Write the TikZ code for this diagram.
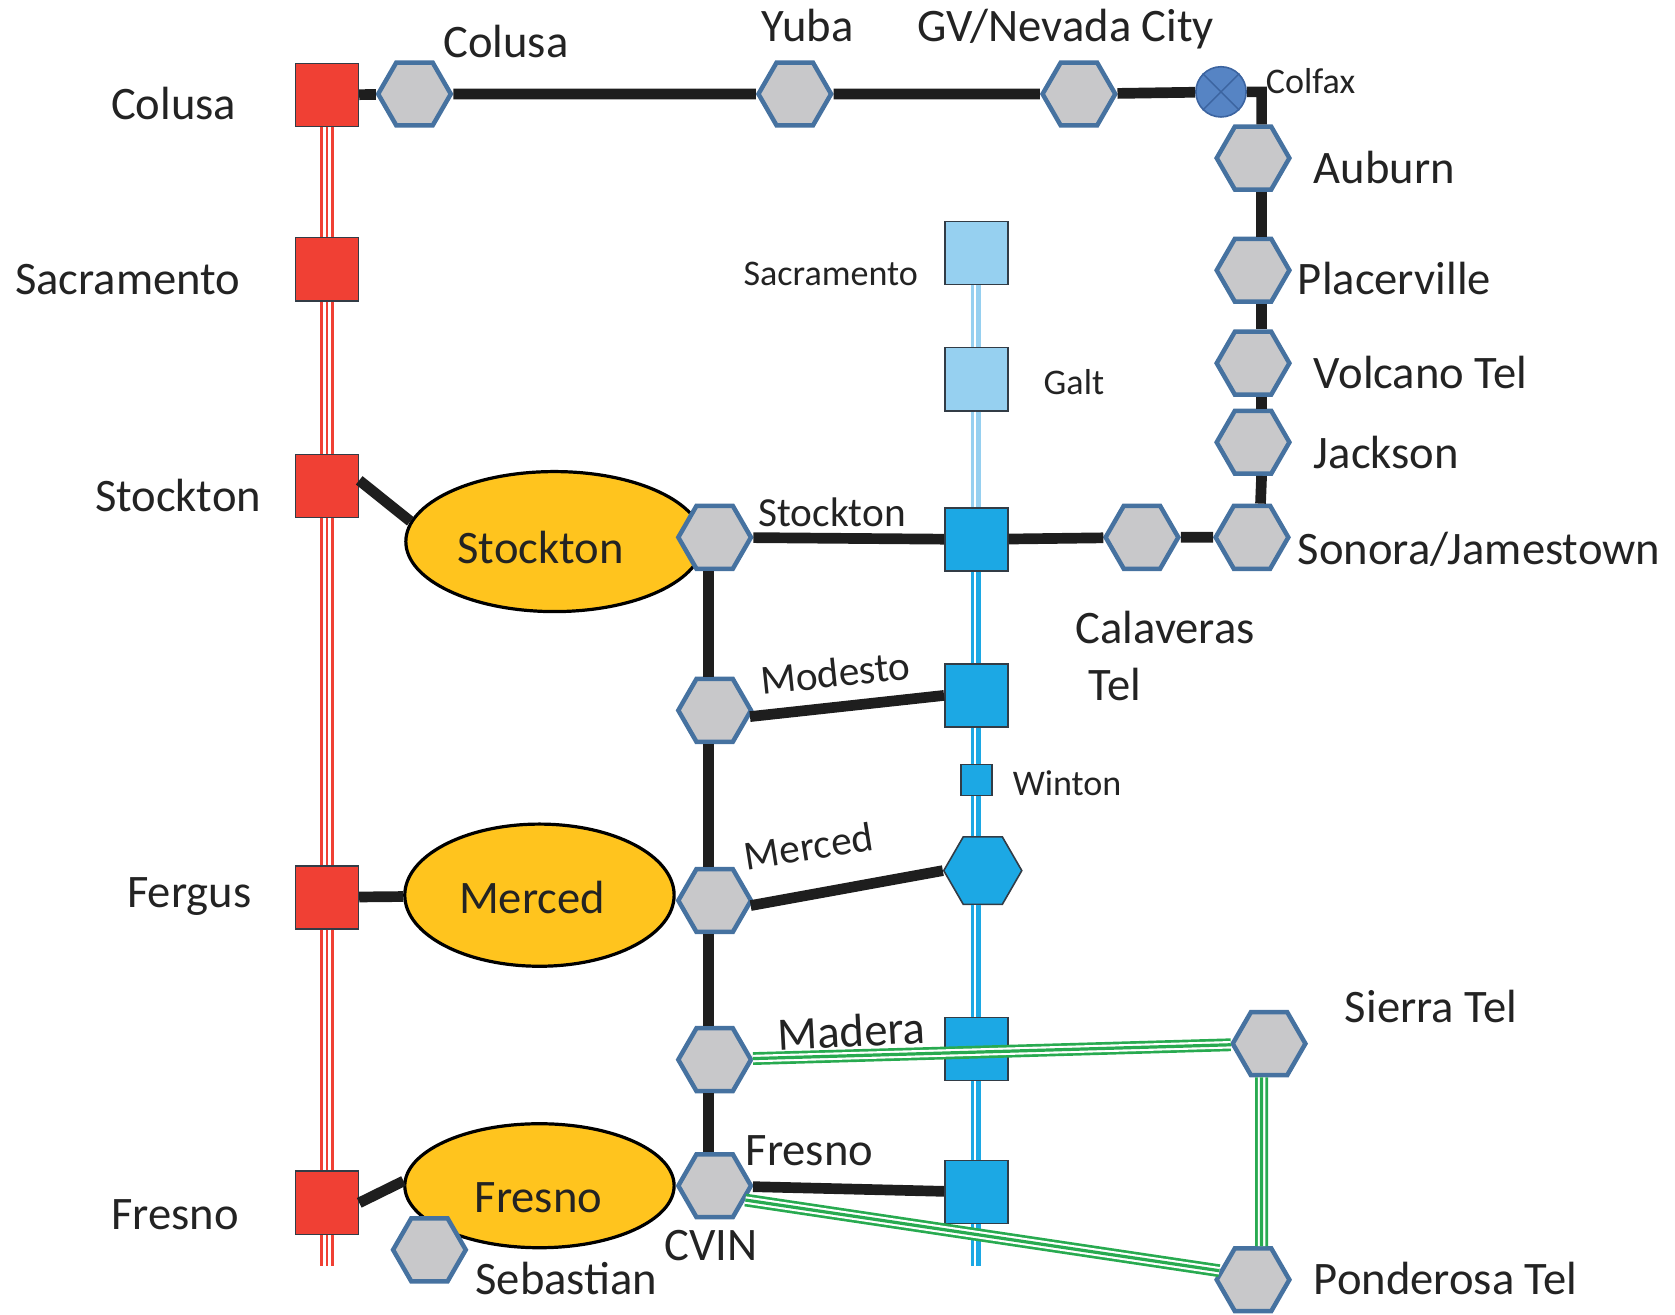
\documentclass[tikz,border=0pt]{standalone}
\usepackage{fontspec}
\setmainfont{Carlito}
\usetikzlibrary{shapes.geometric}

\definecolor{redc}{RGB}{240,64,52}
\definecolor{bluec}{RGB}{28,168,228}
\definecolor{lbluec}{RGB}{150,208,240}
\definecolor{hexgray}{RGB}{200,200,202}
\definecolor{hexblue}{RGB}{70,114,160}
\definecolor{goldc}{RGB}{255,196,30}
\definecolor{greenc}{RGB}{40,170,80}
\definecolor{colfaxc}{RGB}{86,132,196}
\definecolor{colfaxd}{RGB}{60,100,160}
\definecolor{sqline}{RGB}{50,60,70}
\definecolor{linec}{RGB}{30,30,30}
\definecolor{textc}{RGB}{35,35,35}

\begin{document}
\begin{tikzpicture}[x=0.01cm,y=-0.01cm,semithick]
  \tikzstyle{hexa}=[regular polygon,regular polygon sides=6,minimum size=0.68cm,inner sep=0pt,draw=hexblue,line width=0.042cm,fill=hexgray]
  \tikzstyle{redsq}=[rectangle,minimum size=0.59cm,inner sep=0pt,draw=sqline,line width=0.015cm,fill=redc]
  \tikzstyle{bluesq}=[redsq,fill=bluec]
  \tikzstyle{lbluesq}=[redsq,fill=lbluec]
  \tikzstyle{oval}=[ellipse,draw=black,line width=0.03cm,fill=goldc,inner sep=0pt]
  \tikzstyle{ovaltext}=[inner sep=0pt,text=textc,font=\fontsize{12.4}{14}\selectfont]
  \tikzstyle{link}=[draw=linec,line width=0.1cm]
  \tikzstyle{redtrip}=[draw=redc,line width=0.125cm,postaction={draw=white,line width=0.025cm,double=redc,double distance=0.025cm}]
  \tikzstyle{greentrip}=[draw=greenc,line width=0.12cm,postaction={draw=white,line width=0.02cm,double=greenc,double distance=0.03cm}]
  \tikzstyle{bpipe}=[draw=bluec,line width=0.095cm,postaction={draw=white,line width=0.02cm,transform canvas={xshift=-0.015cm}}]
  \tikzstyle{lpipe}=[bpipe,draw=lbluec]
  \tikzstyle{big}=[inner sep=0pt,text=textc,anchor=base west,font=\fontsize{12.4}{14}\selectfont]
  \tikzstyle{mid}=[inner sep=0pt,text=textc,font=\fontsize{11}{13}\selectfont]
  \tikzstyle{small}=[inner sep=0pt,text=textc,anchor=base west,font=\fontsize{9.6}{11}\selectfont]

  \useasboundingbox (0,0) rectangle (1568,1231);

  % Red column
  \node[redsq] (colR) at (306,89) {};
  \node[redsq] (sacR) at (306,252) {};
  \node[redsq] (stkR) at (306,455) {};
  \node[redsq] (ferR) at (306,840) {};
  \node[redsq] (freR) at (306,1126) {};
  \coordinate (redend) at (306,1185);

  % Offices
  \node[oval,minimum width=2.78cm,minimum height=1.31cm] (stkE) at (519,507) {};
  \node[oval,minimum width=2.52cm,minimum height=1.33cm] (merE) at (505,838) {};
  \node[oval,minimum width=2.52cm,minimum height=1.16cm] (freE) at (505,1110) {};
  \node[ovaltext] (stkT) at (506,513) {Stockton};
  \node[ovaltext] (merT) at (498,840) {Merced};
  \node[ovaltext] (freT) at (504,1121) {Fresno};

  % Blue column
  \node[lbluesq] (sacB) at (914,237) {};
  \node[lbluesq] (galtB) at (914,355) {};
  \node[bluesq] (stkB) at (914,505) {};
  \node[bluesq] (modB) at (914,651) {};
  \node[bluesq,minimum size=0.29cm] (winB) at (914,730) {};
  \node[hexa,fill=bluec,draw=sqline,line width=0.015cm,minimum size=0.73cm] (merB) at (920,815) {};
  \node[bluesq] (madB) at (914,982) {};
  \node[bluesq] (freB) at (914,1116) {};
  \coordinate (blueend) at (914,1185);

  % Hexagons
  \node[hexa] (colH) at (388,88) {};
  \node[hexa] (yubH) at (744,88) {};
  \node[hexa] (gvH) at (1010,88) {};
  \node[circle,minimum size=0.47cm,inner sep=0pt,fill=colfaxc,draw=colfaxd,line width=0.015cm] (colf) at (1143,86) {};
  \node[hexa] (aubH) at (1173,148) {};
  \node[hexa] (plcH) at (1173,253) {};
  \node[hexa] (volH) at (1173,340) {};
  \node[hexa] (jacH) at (1173,414) {};
  \node[hexa] (sonH) at (1172,503) {};
  \node[hexa] (calH) at (1069,503) {};
  \node[hexa] (stkH) at (669,503) {};
  \node[hexa] (modH) at (669,665) {};
  \node[hexa] (merH) at (669,843) {};
  \node[hexa] (madH) at (669,992) {};
  \node[hexa] (freH) at (669,1110) {};
  \node[hexa] (sebH) at (402,1170) {};
  \node[hexa] (sieH) at (1188,977) {};
  \node[hexa] (ponH) at (1173,1198) {};

  % Links
  \draw[colfaxd,line width=0.012cm] (colf.45) -- (colf.225) (colf.135) -- (colf.315);
  \draw[redtrip] (colR) -- (sacR) -- (stkR) -- (ferR) -- (freR) -- (redend);
  \draw[lpipe] (sacB) -- (galtB) -- (stkB);
  \draw[bpipe] (stkB) -- (modB) -- (winB) -- (merB.north -| winB);
  \draw[bpipe] (merB.south -| madB) -- (madB) -- (freB) -- (blueend);

  \draw[link] (colR) -- (colH) -- (yubH) -- (gvH) -- (colf) -| ([xshift=0.08cm]aubH.north);
  \foreach \a/\b in {aubH/plcH, plcH/volH, volH/jacH, jacH/sonH}
    \draw[link] ([xshift=0.08cm]\a.south) -- ([xshift=0.08cm]\b.north);
  \draw[link] (sonH) -- (calH) -- (stkB) -- (stkH);
  \foreach \a/\b in {stkH/modH, modH/merH, merH/madH, madH/freH}
    \draw[link] ([xshift=-0.06cm]\a.south) -- ([xshift=-0.06cm]\b.north);
  \draw[link] (modH.-10) -- (modB.west);
  \draw[link] (merH.-8) -- (merB.west);
  \draw[link] (freH) -- (freB);
  \draw[link] (stkR.10) -- (stkE.172);
  \draw[link] (ferR) -- (merE);
  \draw[link] (freR.east) -- (freE.178);

  \draw[greentrip] (madH) -- (sieH);
  \draw[greentrip] (freH.-25) -- (ponH.165);
  \draw[greentrip] ([xshift=-0.07cm]sieH.south) -- ([xshift=0.08cm]ponH.north);

  % Labels
  \node[big] (tColL) at (103,112) {Colusa};
  \node[big] (tSacL) at (13,276) {Sacramento};
  \node[big] (tStkL) at (88,479) {Stockton};
  \node[big] (tFerL) at (118,850) {Fergus};
  \node[big] (tFreL) at (103,1151) {Fresno};

  \node[big] (tCol) at (414,54) {Colusa};
  \node[big] (tYub) at (712,39) {Yuba};
  \node[big] (tGv) at (858,39) {GV/Nevada City};
  \node[small] (tColf) at (1184,88) {Colfax};
  \node[big] (tAub) at (1229,172) {Auburn};
  \node[big] (tPlc) at (1214,276) {Placerville};
  \node[big] (tVol) at (1229,364) {Volcano Tel};
  \node[big] (tJac) at (1229,439) {Jackson};
  \node[big] (tSon) at (1214,528) {Sonora/Jamestown};
  \node[big] (tCal) at (1006,602) {Calaveras};
  \node[big] (tCalT) at (1018,656) {Tel};

  \node[small] (tSacB) at (695,267) {Sacramento};
  \node[small] (tGalt) at (976,369) {Galt};
  \node[small] (tWin) at (947,745) {Winton};
  \node[mid,anchor=base west] (tStk) at (709,493) {Stockton};
  \node[mid,rotate=6] (tMod) at (782,630) {Modesto};
  \node[mid,rotate=9] (tMer) at (757,792) {Merced};
  \node[big,anchor=center,rotate=3] (tMad) at (797,965) {Madera};
  \node[big] (tSie) at (1258,957) {Sierra Tel};
  \node[big] (tFre) at (697,1091) {Fresno};
  \node[big] (tCvin) at (621,1180) {CVIN};
  \node[big] (tSeb) at (444,1212) {Sebastian};
  \node[big] (tPon) at (1229,1212) {Ponderosa Tel};

\end{tikzpicture}
\end{document}
